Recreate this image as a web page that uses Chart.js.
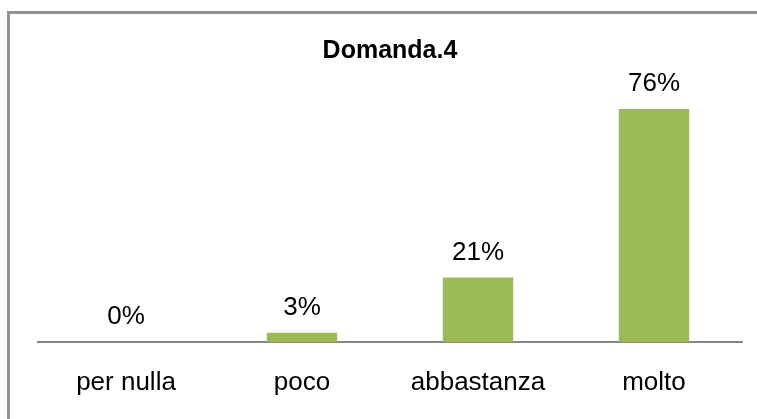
<!DOCTYPE html>
<html>
<head>
<meta charset="utf-8">
<script src="https://cdn.jsdelivr.net/npm/chart.js@4"></script>
<style>
  body { margin: 0; background: #fff; overflow: hidden; }
  #cornice { position: absolute; left: 7px; top: 11px; width: 800px; height: 500px;
    border-top: 3px solid #929292; border-left: 3px solid #929292; }
  #wrap { position: absolute; left: 0; top: 0; width: 757px; height: 419px; }
</style>
</head>
<body>
<div id="cornice"></div>
<div id="wrap"><canvas id="myChart"></canvas></div>
<script>
const categorie = ['per nulla', 'poco', 'abbastanza', 'molto'];
const percentuali = [0, 3, 21, 76];
const titolo = 'Domanda.4';

const ctx = document.getElementById('myChart');

const etichetteValori = {
  id: 'etichetteValori',
  afterDatasetsDraw(chart) {
    const c = chart.ctx;
    const meta = chart.getDatasetMeta(0);
    c.save();
    c.font = '26px "Liberation Sans", Arial, sans-serif';
    c.fillStyle = '#000';
    c.textAlign = 'center';
    c.textBaseline = 'middle';
    meta.data.forEach((bar, i) => {
      c.fillText(percentuali[i] + '%', bar.x, bar.y - 25);
    });
    c.restore();
  }
};

new Chart(ctx, {
  type: 'bar',
  data: {
    labels: categorie,
    datasets: [{
      data: percentuali,
      backgroundColor: '#9BBB59',
      borderWidth: 0,
      categoryPercentage: 0.5,
      barPercentage: 0.8
    }]
  },
  options: {
    responsive: true,
    maintainAspectRatio: false,
    animation: false,
    layout: { padding: { left: 38, right: 15, top: 0, bottom: 13.4 } },
    plugins: {
      legend: { display: false },
      tooltip: { enabled: false },
      title: {
        display: true,
        text: titolo,
        color: '#000',
        font: { family: '"Liberation Sans", Arial, sans-serif', size: 25, weight: 'bold' },
        padding: { top: 36, bottom: 15.4 }
      }
    },
    scales: {
      x: {
        grid: { display: true, color: 'rgba(0,0,0,0)', drawTicks: true, tickLength: 18.4 },
        border: { display: true, color: '#868686', width: 2 },
        ticks: {
          color: '#000',
          padding: 7,
          font: { family: '"Liberation Sans", Arial, sans-serif', size: 26 }
        }
      },
      y: {
        display: false,
        min: 0,
        max: 85
      }
    }
  },
  plugins: [etichetteValori]
});
</script>
</body>
</html>
